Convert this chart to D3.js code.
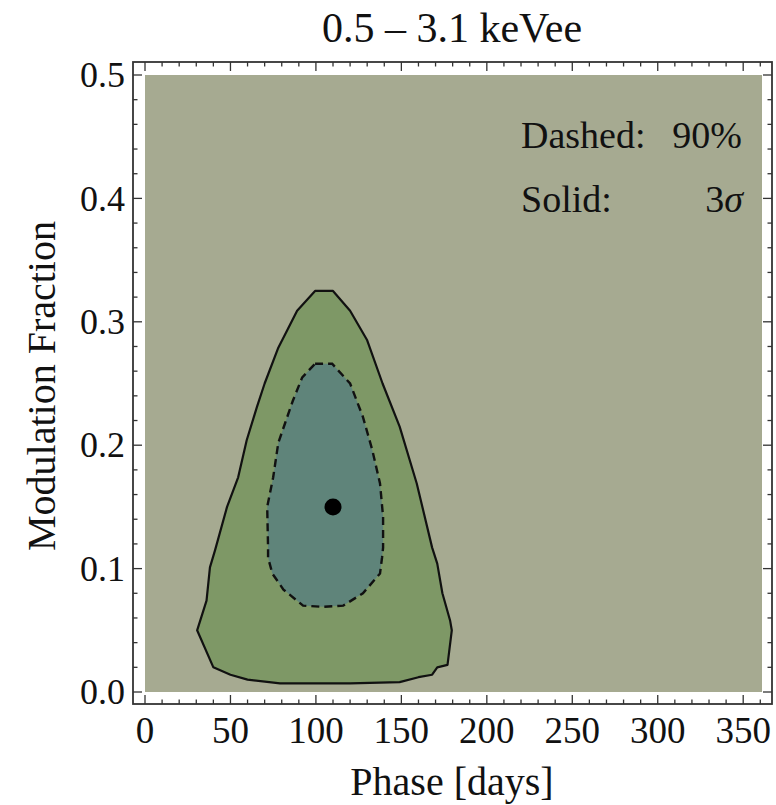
<!DOCTYPE html>
<html>
<head>
<meta charset="utf-8">
<script src="https://cdn.jsdelivr.net/npm/d3@7"></script>
<style>
  body { margin: 0; background: #fff; }
  text { font-family: "Liberation Serif", "Times New Roman", serif; fill: #111; }
</style>
</head>
<body>
<script>
// contour vertices: [phase (days), modulation fraction]
let contour3Sigma = [
  [99.5,0.325],[110,0.325],[120,0.309],[130,0.285],[139,0.250],[149,0.215],
  [159,0.169],[168,0.117],[171,0.104],[174,0.080],[178.5,0.058],[179.5,0.050],
  [177,0.022],[171,0.020],[168,0.014],[160,0.012],[149,0.008],[120,0.007],
  [79,0.007],[60,0.010],[50,0.014],[40,0.020],[30.5,0.050],[36,0.074],
  [38,0.101],[41,0.115],[48,0.150],[54.5,0.174],[59.5,0.204],[65.5,0.231],
  [70,0.250],[78,0.279],[89,0.309]
]
let contour90 = [
  [99.5,0.266],[109.5,0.266],[120,0.250],[127.5,0.223],[133,0.196],[137.5,0.169],
  [139.3,0.142],[139.3,0.117],[138.7,0.109],[137.5,0.096],[127.5,0.080],[116,0.070],
  [104,0.069],[92.5,0.070],[81,0.083],[74.5,0.096],[72,0.109],[72,0.117],
  [71.5,0.150],[75,0.174],[78,0.202],[82,0.218],[86.5,0.236],[92,0.255]
]
let bestFit = [110, 0.15]

let xTicks = [0, 50, 100, 150, 200, 250, 300, 350]
let yTicks = [0.0, 0.1, 0.2, 0.3, 0.4, 0.5]
let titleText = "0.5 \u2013 3.1 keVee"
let xLabel = "Phase [days]"
let yLabel = "Modulation Fraction"

let W = 776, H = 805
let svg = d3.select("body").append("svg").attr("width", W).attr("height", H)

// frame and plot area
let frame = {x0: 133, x1: 772, y0: 62, y1: 704}
let x = d3.scaleLinear().domain([0, 361]).range([145, 762])
let y = d3.scaleLinear().domain([0, 0.5]).range([692, 75])

svg.append("rect")
  .attr("x", x(0)).attr("y", y(0.5))
  .attr("width", x(361) - x(0)).attr("height", y(0) - y(0.5))
  .attr("fill", "#a6aa91")

let line = d3.line().x(d => x(d[0])).y(d => y(d[1])).curve(d3.curveLinearClosed)

svg.append("path")
  .attr("d", line(contour3Sigma))
  .attr("fill", "#7e9866")
  .attr("stroke", "#111")
  .attr("stroke-width", 2.2)
  .attr("stroke-linejoin", "round")

svg.append("path")
  .attr("d", line(contour90))
  .attr("fill", "#5f847a")
  .attr("stroke", "#111")
  .attr("stroke-width", 2.4)
  .attr("stroke-dasharray", "8,5")

svg.append("circle")
  .attr("cx", x(bestFit[0])).attr("cy", y(bestFit[1]))
  .attr("r", 8.5).attr("fill", "#000")

// frame
svg.append("rect")
  .attr("x", frame.x0).attr("y", frame.y0)
  .attr("width", frame.x1 - frame.x0).attr("height", frame.y1 - frame.y0)
  .attr("fill", "none").attr("stroke", "#333").attr("stroke-width", 1.8)

// ticks on all four sides, pointing inward
let minorX = d3.range(0, 361, 10)
let minorY = d3.range(0, 0.501, 0.02)
let tickG = svg.append("g").attr("stroke", "#333").attr("stroke-width", 1.3)
minorX.forEach(v => {
  let len = (v % 50 == 0) ? 9 : 4.5
  tickG.append("line").attr("x1", x(v)).attr("x2", x(v)).attr("y1", frame.y1).attr("y2", frame.y1 - len)
  tickG.append("line").attr("x1", x(v)).attr("x2", x(v)).attr("y1", frame.y0).attr("y2", frame.y0 + len)
})
minorY.forEach(v => {
  let major = Math.abs(Math.round(v * 10) - v * 10) < 1e-6
  let len = major ? 9 : 4.5
  tickG.append("line").attr("y1", y(v)).attr("y2", y(v)).attr("x1", frame.x0).attr("x2", frame.x0 + len)
  tickG.append("line").attr("y1", y(v)).attr("y2", y(v)).attr("x1", frame.x1).attr("x2", frame.x1 - len)
})

// tick labels
svg.append("g").selectAll("text").data(xTicks).join("text")
  .attr("x", d => x(d)).attr("y", 743)
  .attr("text-anchor", "middle").attr("font-size", 37)
  .text(d => d)

svg.append("g").selectAll("text").data(yTicks).join("text")
  .attr("x", 125).attr("y", d => y(d))
  .attr("dy", "0.34em")
  .attr("text-anchor", "end").attr("font-size", 36)
  .text(d => d.toFixed(1))

// title and axis labels
svg.append("text")
  .attr("x", 452).attr("y", 42)
  .attr("text-anchor", "middle").attr("font-size", 42)
  .text(titleText)

svg.append("text")
  .attr("x", 452).attr("y", 795)
  .attr("text-anchor", "middle").attr("font-size", 40)
  .text(xLabel)

svg.append("text")
  .attr("transform", "translate(55,386) rotate(-90)")
  .attr("text-anchor", "middle").attr("font-size", 40)
  .text(yLabel)

// legend text
let leg = svg.append("g").attr("font-size", 38)
leg.append("text").attr("x", 521).attr("y", 148).text("Dashed:")
leg.append("text").attr("x", 742).attr("y", 148).attr("text-anchor", "end").attr("font-size", 38).text("90%")
leg.append("text").attr("x", 521).attr("y", 212).attr("font-size", 38).text("Solid:")
let sig = leg.append("text").attr("x", 743).attr("y", 212).attr("text-anchor", "end").attr("font-size", 38)
sig.append("tspan").text("3")
sig.append("tspan").attr("font-style", "italic").text("\u03c3")
</script>
</body>
</html>
